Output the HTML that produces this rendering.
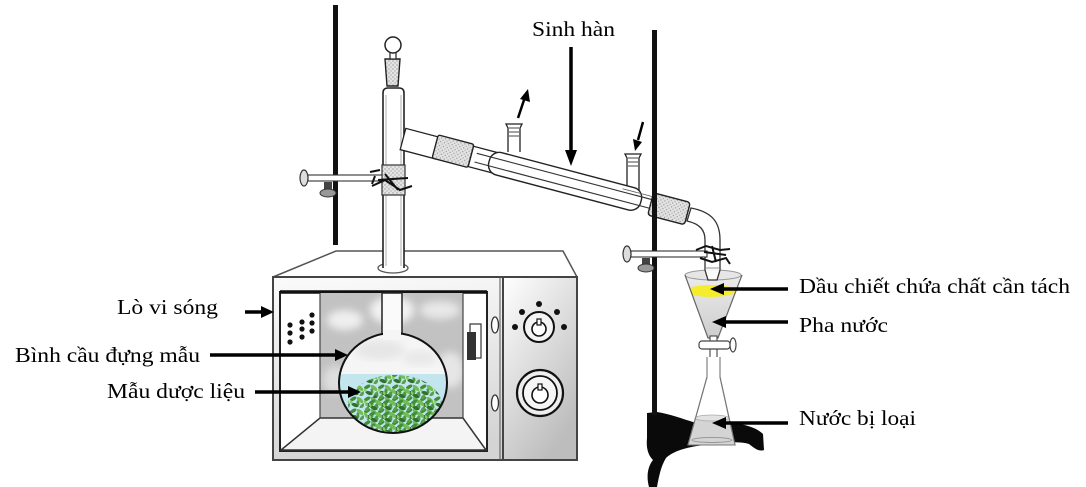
<!DOCTYPE html>
<html><head><meta charset="utf-8">
<style>html,body{margin:0;padding:0;background:#fff}svg{display:block}</style></head>
<body>
<svg width="1086" height="487" viewBox="0 0 1086 487" xmlns="http://www.w3.org/2000/svg" font-family="'Liberation Serif', serif">
<defs>
 <pattern id="stip" width="4" height="4" patternUnits="userSpaceOnUse"><rect width="4" height="4" fill="#e4e4e4"/><circle cx="1" cy="1" r="0.7" fill="#999"/><circle cx="3" cy="3" r="0.7" fill="#aaa"/></pattern>
 <linearGradient id="face" x1="0" y1="0" x2="0.2" y2="1"><stop offset="0" stop-color="#fbfbfb"/><stop offset="1" stop-color="#d4d4d4"/></linearGradient>
 <linearGradient id="panel" x1="0" y1="0" x2="0.6" y2="1"><stop offset="0" stop-color="#ffffff"/><stop offset="1" stop-color="#bdbdbd"/></linearGradient>
 <linearGradient id="fun" x1="0" y1="0" x2="0" y2="1"><stop offset="0" stop-color="#ececec"/><stop offset="1" stop-color="#cdcdcd"/></linearGradient>
 <filter id="blur"><feGaussianBlur stdDeviation="4"/></filter>
 <clipPath id="backclip"><rect x="320" y="293" width="143" height="125"/></clipPath>
 <clipPath id="flaskclip"><ellipse cx="393" cy="383" rx="54" ry="50"/></clipPath>
 <clipPath id="coneclip"><path d="M685,275 L708,338 L718,338 L742,275 Z"/></clipPath>
 <pattern id="leaves" width="14" height="12" patternUnits="userSpaceOnUse">
  <ellipse cx="3" cy="3" rx="3.8" ry="1.8" transform="rotate(-30 3 3)" fill="#3f8f3a"/>
  <ellipse cx="10" cy="4" rx="4" ry="2" transform="rotate(40 10 4)" fill="#72bb5c"/>
  <ellipse cx="5" cy="9" rx="3.8" ry="1.8" transform="rotate(20 5 9)" fill="#2e7030"/>
  <ellipse cx="12" cy="10" rx="3.3" ry="1.6" transform="rotate(-50 12 10)" fill="#58a04a"/>
  <ellipse cx="8" cy="7" rx="2.6" ry="1.3" transform="rotate(75 8 7)" fill="#4a9a40"/>
  <ellipse cx="1" cy="6" rx="2.2" ry="1.2" transform="rotate(60 1 6)" fill="#8cc870"/>
 </pattern>
</defs>

<!-- left stand rod -->
<rect x="333" y="5" width="5" height="240" fill="#111"/>

<!-- ===== Microwave ===== -->
<polygon points="273,277 336,251 563,251 577,277" fill="#fff" stroke="#555" stroke-width="1.5"/>
<rect x="273" y="277" width="304" height="183" fill="url(#face)" stroke="#444" stroke-width="2"/>
<rect x="503" y="277" width="74" height="183" fill="url(#panel)" stroke="#444" stroke-width="2"/>
<!-- door window -->
<rect x="280" y="292" width="207" height="159" fill="#fff" stroke="#222" stroke-width="2"/>
<line x1="280" y1="292" x2="487" y2="292" stroke="#111" stroke-width="3.5"/>
<!-- back wall -->
<rect x="320" y="293" width="143" height="125" fill="#c2c2c2"/>
<g clip-path="url(#backclip)" filter="url(#blur)">
 <ellipse cx="345" cy="320" rx="18" ry="10" fill="#efefef"/>
 <ellipse cx="440" cy="310" rx="20" ry="9" fill="#e8e8e8"/>
 <ellipse cx="450" cy="370" rx="14" ry="18" fill="#e6e6e6"/>
 <ellipse cx="335" cy="380" rx="12" ry="14" fill="#dedede"/>
 <ellipse cx="392" cy="310" rx="22" ry="14" fill="#f2f2f2"/>
</g>
<polygon points="320,418 463,418 486,450 281,450" fill="#f4f4f4" stroke="#333" stroke-width="1.5"/>
<line x1="320" y1="293" x2="320" y2="418" stroke="#444" stroke-width="1.2"/>
<line x1="463" y1="293" x2="463" y2="418" stroke="#444" stroke-width="1.2"/>
<!-- holes -->
<g fill="#111">
 <circle cx="290" cy="325" r="2.6"/><circle cx="290" cy="333" r="2.6"/><circle cx="290" cy="342" r="2.6"/>
 <circle cx="302" cy="322" r="2.6"/><circle cx="302" cy="329" r="2.6"/><circle cx="302" cy="337" r="2.6"/>
 <circle cx="312" cy="315" r="2.6"/><circle cx="312" cy="323" r="2.6"/><circle cx="312" cy="331" r="2.6"/>
</g>
<!-- handle -->
<rect x="470" y="324" width="11" height="34" fill="#fff" stroke="#333" stroke-width="1.2"/>
<rect x="467" y="332" width="9" height="28" fill="#333"/>
<!-- hinges -->
<ellipse cx="495" cy="325" rx="3.5" ry="8" fill="#fff" stroke="#333" stroke-width="1.3"/>
<ellipse cx="495" cy="403" rx="3.5" ry="8" fill="#fff" stroke="#333" stroke-width="1.3"/>
<line x1="500" y1="277" x2="500" y2="460" stroke="#555" stroke-width="1"/>
<!-- knobs -->
<g fill="#111">
 <circle cx="515" cy="327" r="3"/><circle cx="522" cy="312" r="3"/><circle cx="539" cy="304" r="3"/><circle cx="557" cy="312" r="3"/><circle cx="564" cy="327" r="3"/>
</g>
<circle cx="539" cy="327" r="15" fill="#f4f4f4" stroke="#111" stroke-width="2"/>
<circle cx="539" cy="329" r="7" fill="#fff" stroke="#111" stroke-width="1.6"/>
<rect x="537" y="319" width="4" height="6" fill="#fff" stroke="#111" stroke-width="1.2"/>
<circle cx="540" cy="393" r="23" fill="#eee" stroke="#111" stroke-width="2.2"/>
<circle cx="540" cy="393" r="17" fill="#f6f6f6" stroke="#111" stroke-width="1.8"/>
<circle cx="540" cy="395" r="8" fill="#fff" stroke="#111" stroke-width="1.6"/>
<rect x="538" y="384" width="4" height="6" fill="#fff" stroke="#111" stroke-width="1.2"/>

<!-- round flask in microwave -->
<rect x="382" y="293" width="20" height="45" fill="#fafafa" stroke="#222" stroke-width="1.5"/>
<ellipse cx="393" cy="383" rx="54" ry="50" fill="#f5f5f5"/>
<g clip-path="url(#flaskclip)">
 <ellipse cx="380" cy="350" rx="25" ry="10" fill="#e6e6e6" filter="url(#blur)"/>
 <ellipse cx="420" cy="358" rx="18" ry="8" fill="#e9e9e9" filter="url(#blur)"/>
 <rect x="330" y="374" width="130" height="70" fill="#c3e6ee"/>
 <ellipse cx="395" cy="405" rx="47" ry="30" fill="url(#leaves)"/>
 <ellipse cx="395" cy="408" rx="36" ry="22" fill="url(#leaves)" transform="translate(5 3)"/>
</g>
<ellipse cx="393" cy="383" rx="54" ry="50" fill="none" stroke="#111" stroke-width="2"/>
<rect x="383" y="330" width="18" height="10" fill="#f5f5f5"/>

<!-- ===== Column ===== -->
<ellipse cx="393" cy="268" rx="15" ry="5" fill="#fff" stroke="#555" stroke-width="1.3"/>
<path d="M383,268 L383,93 Q383,88 388,88 L399,88 Q404,88 404,93 L404,268" fill="#fff" stroke="#222" stroke-width="1.6"/>
<line x1="386" y1="95" x2="386" y2="266" stroke="#888" stroke-width="0.7"/>
<line x1="401" y1="95" x2="401" y2="266" stroke="#888" stroke-width="0.7"/>
<rect x="382" y="165" width="23" height="30" fill="url(#stip)" stroke="#333" stroke-width="1.2"/>
<path d="M385,59 L400,59 L398,86 L387,86 Z" fill="url(#stip)" stroke="#222" stroke-width="1.4"/>
<rect x="390" y="52" width="6" height="7" fill="#fff" stroke="#222" stroke-width="1.2"/>
<circle cx="393" cy="45" r="8" fill="#fff" stroke="#222" stroke-width="1.5"/>

<!-- left clamp -->
<rect x="308" y="175" width="74" height="6" fill="#fff" stroke="#333" stroke-width="1.1"/>
<ellipse cx="304" cy="178" rx="4" ry="8" fill="#ddd" stroke="#333" stroke-width="1.2"/>
<rect x="324" y="182" width="8" height="8" fill="#444"/>
<ellipse cx="328" cy="193" rx="8" ry="4" fill="#999" stroke="#333" stroke-width="1"/>
<path d="M370,172 L380,170 M372,186 L385,180 L400,190 L412,186 M378,180 L408,178 M385,174 L398,190 M375,176 L372,184" stroke="#111" stroke-width="2" fill="none"/>

<!-- ===== Condenser ===== -->
<path d="M508,152 L508,128 L506,124 L522,124 L520,128 L520,152" fill="#fff" stroke="#222" stroke-width="1.3"/>
<path d="M509,128 L519,128 M509,132 L519,132 M509,136 L519,136" stroke="#444" stroke-width="0.9"/>
<path d="M627,190 L627,158 L625,154 L641,154 L639,158 L639,190" fill="#fff" stroke="#222" stroke-width="1.3"/>
<path d="M628,158 L638,158 M628,162 L638,162 M628,166 L638,166" stroke="#444" stroke-width="0.9"/>
<g transform="translate(403,139) rotate(14.8)">
 <rect x="0" y="-11" width="36" height="22" fill="#fff" stroke="#222" stroke-width="1.3"/>
 <rect x="70" y="-11" width="24" height="21" fill="#fff" stroke="#222" stroke-width="1.3"/>
 <rect x="89" y="-12" width="157" height="23" rx="10" fill="#fff" stroke="#222" stroke-width="1.4"/>
 <line x1="75" y1="-5" x2="258" y2="-5" stroke="#333" stroke-width="1.1"/>
 <line x1="75" y1="4" x2="258" y2="4" stroke="#333" stroke-width="1.1"/>
 <line x1="225" y1="-8" x2="258" y2="-8" stroke="#555" stroke-width="0.8"/>
 <rect x="33" y="-13" width="37" height="24" rx="2" fill="url(#stip)" stroke="#222" stroke-width="1.4"/>
 <rect x="256" y="-12" width="38" height="23" rx="3" fill="url(#stip)" stroke="#222" stroke-width="1.4"/>
</g>

<!-- stand base -->
<path d="M647,413 L657,412 C670,414 683,419 693,422 L740,424 C750,426 758,429 763,434 L764,450 C759,452 754,448 749,444 C735,440 716,444 697,446 C684,448 672,452 666,458 C661,466 659,476 657,487 L649,487 C646,476 648,466 653,460 C648,455 646,448 647,438 Z" fill="#0a0a0a"/>

<!-- separatory funnel -->
<path d="M685,275 L708,338 L718,338 L742,275 Z" fill="url(#fun)"/>
<ellipse cx="711" cy="291" rx="25" ry="6" fill="#f4ec2c" clip-path="url(#coneclip)"/>
<ellipse cx="713" cy="275" rx="28" ry="5" fill="#e6e6e6" stroke="#999" stroke-width="1"/>
<path d="M685,275 L708,338 L718,338 L742,275" fill="none" stroke="#666" stroke-width="1.2"/>

<!-- bent adapter -->
<path d="M691,208 C712,212 720,222 720,240 L720,270 L717,280 L708,280 L705,270 L705,240 C705,230 700,224 687,221 Z" fill="#fff" fill-opacity="0.85" stroke="#333" stroke-width="1.3"/>
<line x1="706" y1="268" x2="719" y2="268" stroke="#777" stroke-width="0.8"/>

<!-- right stand rod -->
<rect x="652" y="30" width="5" height="385" fill="#111"/>

<!-- right clamp -->
<rect x="631" y="251" width="76" height="6" fill="#fff" stroke="#333" stroke-width="1.1"/>
<ellipse cx="627" cy="254" rx="4" ry="8" fill="#ddd" stroke="#333" stroke-width="1.2"/>
<rect x="642" y="258" width="8" height="7" fill="#444"/>
<ellipse cx="646" cy="268" rx="8" ry="4" fill="#999" stroke="#333" stroke-width="1"/>
<path d="M696,250 L706,246 L720,250 L730,249 M700,258 L712,262 L726,258 L730,264 M704,252 L726,255 M712,246 L716,262" stroke="#111" stroke-width="2" fill="none"/>

<!-- stopcock and stem -->
<rect x="710" y="336" width="7" height="38" fill="#fff" stroke="#444" stroke-width="1.1"/>
<rect x="699" y="341" width="31" height="8" rx="3" fill="#fff" stroke="#444" stroke-width="1.2"/>
<ellipse cx="733" cy="345" rx="3" ry="7" fill="#fff" stroke="#444" stroke-width="1.2"/>

<!-- erlenmeyer -->
<path d="M707,357 L707,377 L688,445 L735,445 L720,377 L720,357" fill="#fff" stroke="#777" stroke-width="1.1"/>
<polygon points="695,418 729,418 735,445 688,445" fill="#d4d4d4"/>
<ellipse cx="712" cy="418" rx="17" ry="3" fill="#e2e2e2" stroke="#aaa" stroke-width="0.8"/>
<ellipse cx="712" cy="440" rx="20" ry="2.5" fill="none" stroke="#999" stroke-width="1"/>
<path d="M707,377 L688,445 L735,445 L720,377" fill="none" stroke="#777" stroke-width="1.1"/>

<!-- ===== Arrows ===== -->
<g stroke="#000" stroke-width="3.5" fill="none">
 <line x1="571" y1="47" x2="571" y2="152"/>
 <line x1="245" y1="312" x2="262" y2="312"/>
 <line x1="210" y1="355" x2="336" y2="355"/>
 <line x1="255" y1="392" x2="349" y2="392"/>
 <line x1="788" y1="289" x2="722" y2="289"/>
 <line x1="788" y1="322" x2="724" y2="322"/>
 <line x1="788" y1="423" x2="724" y2="423"/>
 <line x1="518" y1="118" x2="524" y2="100" stroke-width="2.5"/>
 <line x1="643" y1="122" x2="638" y2="140" stroke-width="2.5"/>
</g>
<g fill="#000">
 <polygon points="565,150 577,150 571,166"/>
 <polygon points="261,306 261,318 274,312"/>
 <polygon points="335,349 335,361 348,355"/>
 <polygon points="348,386 348,398 361,392"/>
 <polygon points="724,283 724,295 710,289"/>
 <polygon points="726,316 726,328 712,322"/>
 <polygon points="726,417 726,429 712,423"/>
 <polygon points="520,99 530,102 528,89"/>
 <polygon points="633,139 642,142 635,151"/>
</g>

<!-- ===== Labels ===== -->
<g font-size="21.5" fill="#000">
 <text x="532" y="36" textLength="83" lengthAdjust="spacingAndGlyphs">Sinh hàn</text>
 <text x="117" y="314" textLength="101" lengthAdjust="spacingAndGlyphs">Lò vi sóng</text>
 <text x="15" y="362" textLength="185" lengthAdjust="spacingAndGlyphs">Bình cầu đựng mẫu</text>
 <text x="107" y="398" textLength="138" lengthAdjust="spacingAndGlyphs">Mẫu dược liệu</text>
 <text x="799" y="293" textLength="271" lengthAdjust="spacingAndGlyphs">Dầu chiết chứa chất cần tách</text>
 <text x="799" y="332" textLength="89" lengthAdjust="spacingAndGlyphs">Pha nước</text>
 <text x="799" y="425" textLength="117" lengthAdjust="spacingAndGlyphs">Nước bị loại</text>
</g>
</svg>
</body></html>
